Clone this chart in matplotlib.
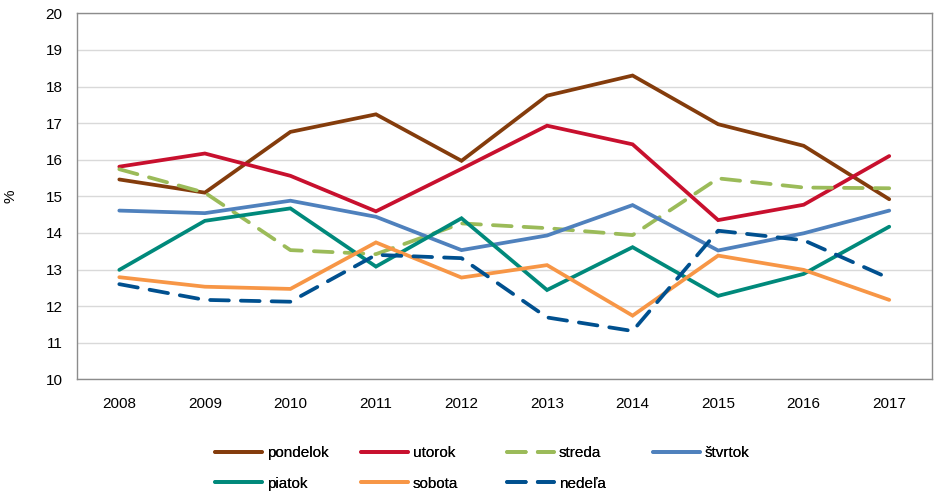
import matplotlib
matplotlib.use("Agg")
import matplotlib.pyplot as plt

plt.rcParams['font.family'] = ['Liberation Sans', 'DejaVu Sans']

years = ['2008', '2009', '2010', '2011', '2012', '2013', '2014', '2015', '2016', '2017']
pondelok = [15.46, 15.10, 16.76, 17.24, 15.97, 17.75, 18.30, 16.97, 16.38, 14.92]
utorok   = [15.81, 16.17, 15.56, 14.59, 15.75, 16.93, 16.42, 14.35, 14.77, 16.10]
streda   = [15.74, 15.10, 13.53, 13.42, 14.26, 14.13, 13.94, 15.49, 15.24, 15.22]
stvrtok  = [14.61, 14.54, 14.88, 14.44, 13.53, 13.93, 14.76, 13.52, 13.99, 14.61]
piatok   = [12.99, 14.33, 14.67, 13.08, 14.40, 12.44, 13.61, 12.28, 12.88, 14.17]
sobota   = [12.79, 12.53, 12.47, 13.74, 12.78, 13.12, 11.74, 13.38, 12.99, 12.17]
nedela   = [12.60, 12.17, 12.12, 13.40, 13.31, 11.69, 11.32, 14.06, 13.80, 12.76]

series = [
    ('pondelok', pondelok, '#843C0C', '-'),
    ('utorok', utorok, '#C8102E', '-'),
    ('streda', streda, '#9BBB59', '--'),
    ('štvrtok', stvrtok, '#4F81BD', '-'),
    ('piatok', piatok, '#00897B', '-'),
    ('sobota', sobota, '#F79646', '-'),
    ('nedeľa', nedela, '#00508F', '--'),
]

W, H = 938, 493
fig = plt.figure(figsize=(W / 100, H / 100), dpi=100)
ax = fig.add_axes([0.0816, 0.2306, 0.912, 0.7424])
x = list(range(len(years)))
handles = []
for name, vals, col, ls in series:
    kw = dict(color=col, lw=2.7, label=name, solid_capstyle='round', solid_joinstyle='miter')
    if ls == '--':
        kw.update(linestyle=(0, (5, 3.2)), dash_capstyle='round')
    h, = ax.plot(x, vals, **kw)
    handles.append(h)

ax.set_xlim(-0.5, len(years) - 0.5)
ax.set_ylim(10, 20)
ax.set_yticks(range(10, 21))
ax.set_xticks(x)
ax.set_xticklabels(years)
ax.tick_params(length=0, labelsize=11, colors='black')
ax.tick_params(axis='x', pad=13)
ax.tick_params(axis='y', pad=10)
ax.grid(axis='y', color='#D9D9D9', lw=1)
ax.set_axisbelow(True)
for s in ax.spines.values():
    s.set_color('#8C8C8C')
    s.set_linewidth(1)
ax.set_ylabel('%', fontsize=11, labelpad=20)

# legend: 4 columns at fixed positions (two rows)
cols = [[0, 4], [1, 5], [2, 6], [3]]
col_x = [215, 361, 507, 653]
for idxs, cx in zip(cols, col_x):
    lg = fig.legend([handles[i] for i in idxs], [series[i][0] for i in idxs],
                    loc='upper left', bbox_to_anchor=(cx / W, 1 - 446 / H),
                    frameon=False, fontsize=11, handlelength=3.1, handletextpad=0.3,
                    labelspacing=1.1, borderpad=0, borderaxespad=0)
    fig.add_artist(lg)

fig.savefig('out.png', dpi=100)
